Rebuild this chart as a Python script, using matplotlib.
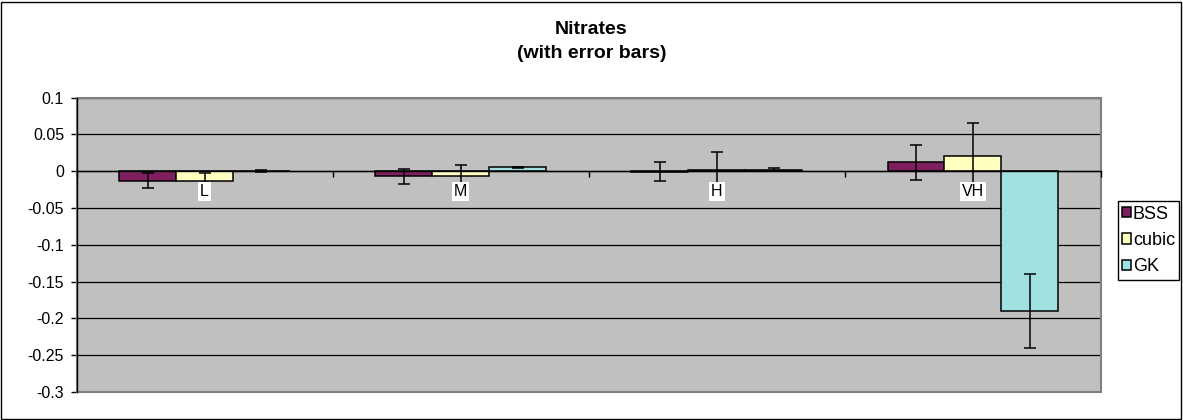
"""Nitrates: differenze per categoria con barre d'errore (stile grafico Excel)."""

import matplotlib

matplotlib.use("Agg")
import matplotlib.pyplot as plt
import numpy as np
from matplotlib.patches import Rectangle

# Dati
categories = ["L", "M", "H", "VH"]
series = ["BSS", "cubic", "GK"]
bss = [-0.013, -0.007, -0.001, 0.012]
cubic = [-0.014, -0.007, 0.002, 0.020]
gk = [0.000, 0.005, 0.002, -0.190]
bss_err = [0.010, 0.010, 0.013, 0.024]
cubic_err = [0.012, 0.015, 0.024, 0.045]
gk_err = [0.001, 0.001, 0.002, 0.050]
yticks = [0.1, 0.05, 0, -0.05, -0.1, -0.15, -0.2, -0.25, -0.3]

colors = ["#7f1f5f", "#ffffc0", "#a0e0e0"]

plt.rcParams["font.family"] = ["Liberation Sans", "DejaVu Sans"]
plt.rcParams["axes.unicode_minus"] = False

W, H = 1183, 420
fig = plt.figure(figsize=(W / 100, H / 100), dpi=100)

# area del grafico (pixel -> frazioni di figura)
left, right, top, bottom = 76.5, 1101, 97.5, 392
ax = fig.add_axes([left / W, 1 - bottom / H, (right - left) / W, (bottom - top) / H])
ax.set_facecolor("#c0c0c0")

x = np.arange(len(categories))
width = 1 / 4.5  # gap width 150%
values = [bss, cubic, gk]
errors = [bss_err, cubic_err, gk_err]
for i, (name, vals, errs, col) in enumerate(zip(series, values, errors, colors)):
    ax.bar(
        x + (i - 1) * width, vals, width, yerr=errs, color=col, edgecolor="black",
        linewidth=1.1, label=name, zorder=3,
        error_kw=dict(ecolor="black", elinewidth=1.1, capsize=4.3, capthick=1.1),
    )

ymin, ymax = min(yticks), max(yticks)
ax.set_ylim(ymin, ymax)
ax.set_xlim(-0.5, len(categories) - 0.5)
ax.set_yticks(yticks)
ax.set_yticklabels([f"{t:g}" for t in yticks], fontsize=11.5)
ax.yaxis.grid(True, color="black", linewidth=0.9, zorder=1)
ax.set_axisbelow(True)
ax.tick_params(axis="y", direction="out", length=4, width=1, pad=5)

# bordo grigio dell'area del grafico
ax.add_patch(Rectangle((0, 0), 1, 1, transform=ax.transAxes, fill=False,
                       edgecolor="#808080", linewidth=1.5, zorder=2, clip_on=False))
for side in ["top", "right"]:
    ax.spines[side].set_visible(False)
ax.spines["left"].set_color("black")
ax.spines["left"].set_linewidth(1)

# asse delle categorie sulla linea dello zero
ax.spines["bottom"].set_position(("data", 0))
ax.spines["bottom"].set_color("black")
ax.spines["bottom"].set_linewidth(1)
ax.spines["bottom"].set_zorder(4)
ax.set_xticks(np.arange(len(categories) + 1) - 0.5)
ax.set_xticklabels([])
ax.set_xticks(x, labels=categories, minor=True)
ax.tick_params(axis="x", which="major", direction="out", length=4, width=1)
ax.tick_params(axis="x", which="minor", length=0, pad=9, labelsize=11.5)
for lbl in ax.get_xticklabels(minor=True):
    lbl.set_bbox(dict(facecolor="white", edgecolor="none", pad=1.5))
ax.xaxis.set_zorder(6)  # etichette sopra le barre d'errore

# titolo
fig.text(0.5, 1 - 30 / H, "Nitrates", ha="center", va="center",
         fontsize=14, fontweight="bold")
fig.text(0.5, 1 - 54 / H, "(with error bars)", ha="center", va="center",
         fontsize=14, fontweight="bold")

leg = fig.legend(
    loc="upper left", bbox_to_anchor=(1117.5 / W, 1 - 201 / H), fontsize=13,
    frameon=True, fancybox=False, edgecolor="black", framealpha=1,
    handlelength=0.5, handleheight=0.5, handletextpad=0.1,
    borderpad=0.25, labelspacing=0.52, borderaxespad=0,
)
leg.get_frame().set_linewidth(1)

# bordo esterno del grafico
fig.patches.append(Rectangle((1 / W, 1 / H), (W - 3) / W, (H - 3) / H,
                             transform=fig.transFigure, fill=False,
                             edgecolor="black", linewidth=1))

fig.savefig("out.png", dpi=100)
